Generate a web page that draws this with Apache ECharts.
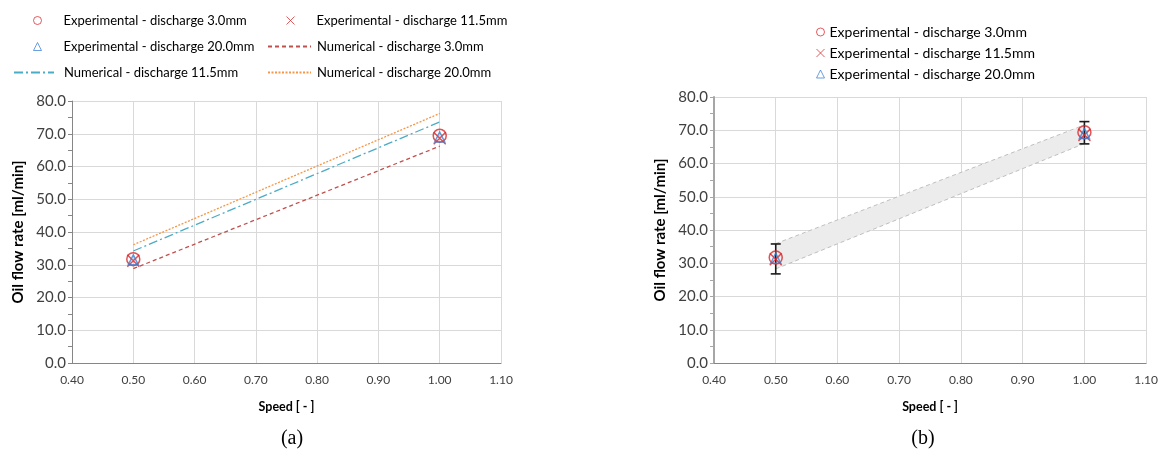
<!DOCTYPE html>
<html lang="en">
<head>
    <meta charset="utf-8"/>
    <title>Oil flow rate vs speed</title>
    <script src="https://cdn.jsdelivr.net/npm/echarts@6.0.0/dist/echarts.min.js"></script>
    <style>
        html, body { margin: 0; padding: 0; background: #fff; }
        #main { width: 1161px; height: 453px; }
    </style>
</head>
<body>
<div id="main"></div>
<script>
    // speeds measured / simulated
    var speeds = [0.5, 1.0];

    // experimental oil flow rate [ml/min]
    var exp30 = [31.7, 69.4];
    var exp115 = [31.2, 68.6];
    var exp200 = [31.5, 69.0];

    // numerical results [ml/min]
    var num30 = [28.8, 66.2];
    var num115 = [34.2, 73.6];
    var num200 = [36.1, 76.2];

    // (b) numerical band and experimental error bars
    var bandLower = [28.3, 66.0];
    var bandUpper = [35.9, 71.6];
    var errLow = [26.8, 65.9];
    var errHigh = [35.8, 72.6];

    var xTicks = ['0.40', '0.50', '0.60', '0.70', '0.80', '0.90', '1.00', '1.10'];
    var yTicks = ['0.0', '10.0', '20.0', '30.0', '40.0', '50.0', '60.0', '70.0', '80.0'];

    var names = {
        e30: 'Experimental - discharge 3.0mm',
        e115: 'Experimental - discharge 11.5mm',
        e200: 'Experimental - discharge 20.0mm',
        n30: 'Numerical - discharge 3.0mm',
        n115: 'Numerical - discharge 11.5mm',
        n200: 'Numerical - discharge 20.0mm'
    };

    var RED = '#d9262a';
    var BLUE = '#3a7fd5';
    var FONT = 'Lato';

    function pairs(ys) {
        return speeds.map(function (x, i) { return [x, ys[i]]; });
    }

    function xAxisFor(idx, lineColor) {
        return {
            gridIndex: idx,
            type: 'value',
            min: 0.4,
            max: 1.1,
            interval: 0.1,
            name: 'Speed [ - ]',
            nameLocation: 'middle',
            nameGap: 37,
            nameTextStyle: {fontFamily: FONT, fontSize: 12.5, fontWeight: 'bold', color: '#000'},
            axisLine: {onZero: false, lineStyle: {color: lineColor, width: 1}},
            axisTick: {show: false},
            axisLabel: {
                margin: 11, fontFamily: FONT, fontSize: 12, color: '#404040',
                formatter: function (v) { return xTicks[Math.round((v - 0.4) * 10)]; }
            },
            splitLine: {show: true, lineStyle: {color: '#d9d9d9'}}
        };
    }

    function yAxisFor(idx, lineColor, lineWidth) {
        return {
            gridIndex: idx,
            type: 'value',
            min: 0,
            max: 80,
            interval: 10,
            name: 'Oil flow rate [ml/min]',
            nameLocation: 'middle',
            nameGap: 46,
            nameTextStyle: {fontFamily: FONT, fontSize: 15, fontWeight: 'bold', color: '#000'},
            axisLine: {show: true, lineStyle: {color: lineColor, width: lineWidth}},
            axisTick: {show: true, length: 4, lineStyle: {color: lineColor}},
            minorTick: {show: true, splitNumber: 2, length: 4, lineStyle: {color: lineColor}},
            axisLabel: {
                margin: 6, fontFamily: FONT, fontSize: 15, color: '#404040',
                formatter: function (v) { return yTicks[Math.round(v / 10)]; }
            },
            splitLine: {show: true, lineStyle: {color: '#d9d9d9'}}
        };
    }

    function expSeries(idx) {
        return [
            {
                name: names.e30, type: 'scatter', xAxisIndex: idx, yAxisIndex: idx,
                symbol: 'circle', symbolSize: 13, z: 5,
                itemStyle: {color: 'rgba(0,0,0,0)', borderColor: RED, borderWidth: 1.5},
                data: pairs(exp30)
            },
            {
                name: names.e115, type: 'scatter', xAxisIndex: idx, yAxisIndex: idx,
                symbol: 'path://M0,0L10,10M10,0L0,10', symbolSize: 12, z: 5,
                itemStyle: {color: 'rgba(0,0,0,0)', borderColor: RED, borderWidth: 1.5},
                data: pairs(exp115)
            },
            {
                name: names.e200, type: 'scatter', xAxisIndex: idx, yAxisIndex: idx,
                symbol: 'triangle', symbolSize: 10, z: 6,
                itemStyle: {color: 'rgba(0,0,0,0)', borderColor: BLUE, borderWidth: 1.5},
                data: pairs(exp200)
            }
        ];
    }

    function numSeries(name, ys, color, dash) {
        return {
            name: name, type: 'line', xAxisIndex: 0, yAxisIndex: 0,
            symbol: 'none', z: 3,
            lineStyle: {color: color, width: 1.3, type: dash},
            itemStyle: {color: color},
            data: pairs(ys)
        };
    }

    var legendText = {fontFamily: FONT, fontSize: 13, color: '#000'};
    // one legend per entry so the 2-column layout of (a) can be placed exactly
    function oneLegend(name, left, top, w, pad, isLine) {
        var lg = {
            data: [name], left: left, top: top,
            itemWidth: w, itemHeight: 8,
            selectedMode: false,
            textStyle: Object.assign({padding: [0, 0, 0, pad]}, legendText)
        };
        if (isLine) {
            lg.itemStyle = {opacity: 0};
        } else {
            lg.itemStyle = {borderWidth: 1, opacity: 0.75};
        }
        return lg;
    }

    var chart = echarts.init(document.getElementById('main'));

    var series = []
        .concat(expSeries(0))
        .concat([
            numSeries(names.n30, num30, '#c0504d', [4, 3]),
            numSeries(names.n115, num115, '#4bacc6', [9, 3, 2, 3]),
            numSeries(names.n200, num200, '#f79646', [2, 1.5])
        ])
        .concat([
            {
                name: 'band', type: 'custom', xAxisIndex: 1, yAxisIndex: 1, z: 2,
                data: speeds.map(function (x, i) { return [x, bandLower[i], bandUpper[i]]; }),
                renderItem: function (params, api) {
                    var i = params.dataIndex;
                    if (i + 1 >= speeds.length) {
                        return null;
                    }
                    var lo0 = api.coord([speeds[i], bandLower[i]]);
                    var hi0 = api.coord([speeds[i], bandUpper[i]]);
                    var lo1 = api.coord([speeds[i + 1], bandLower[i + 1]]);
                    var hi1 = api.coord([speeds[i + 1], bandUpper[i + 1]]);
                    var edge = {stroke: '#bfbfbf', lineWidth: 1, lineDash: [4, 3], fill: null};
                    return {
                        type: 'group',
                        children: [
                            {type: 'polygon', shape: {points: [lo0, lo1, hi1, hi0]}, style: {fill: '#ececec'}},
                            {type: 'polyline', shape: {points: [lo0, lo1]}, style: edge},
                            {type: 'polyline', shape: {points: [hi0, hi1]}, style: edge}
                        ]
                    };
                }
            },
            {
                name: 'errorBars', type: 'custom', xAxisIndex: 1, yAxisIndex: 1, z: 4,
                data: speeds.map(function (x, i) { return [x, errLow[i], errHigh[i]]; }),
                renderItem: function (params, api) {
                    var lo = api.coord([api.value(0), api.value(1)]);
                    var hi = api.coord([api.value(0), api.value(2)]);
                    var half = 5;
                    var st = {stroke: '#1a1a1a', lineWidth: 1.6};
                    return {
                        type: 'group',
                        children: [
                            {type: 'line', shape: {x1: lo[0], y1: lo[1], x2: hi[0], y2: hi[1]}, style: st},
                            {type: 'line', shape: {x1: lo[0] - half, y1: lo[1], x2: lo[0] + half, y2: lo[1]}, style: st},
                            {type: 'line', shape: {x1: hi[0] - half, y1: hi[1], x2: hi[0] + half, y2: hi[1]}, style: st}
                        ]
                    };
                }
            }
        ])
        .concat(expSeries(1));

    var option = {
        animation: false,
        backgroundColor: '#fff',
        title: [
            {text: '(a)', left: 287, top: 424, textAlign: 'center',
                textStyle: {fontFamily: 'Liberation Serif', fontSize: 20, fontWeight: 'normal', color: '#000'}},
            {text: '(b)', left: 918, top: 424, textAlign: 'center',
                textStyle: {fontFamily: 'Liberation Serif', fontSize: 20, fontWeight: 'normal', color: '#000'}}
        ],
        legend: [
            oneLegend(names.e30, 28, 9, 8, 17, false),
            oneLegend(names.e115, 281, 9, 8, 17, false),
            oneLegend(names.e200, 28, 35, 8, 17, false),
            oneLegend(names.n30, 262, 35, 43, 1, true),
            oneLegend(names.n115, 8, 61, 40, 5, true),
            oneLegend(names.n200, 262, 61, 43, 1, true),
            {
                data: [names.e30, names.e115, names.e200],
                orient: 'vertical', left: 811, top: 20,
                itemWidth: 8, itemHeight: 8, itemGap: 7,
                selectedMode: false,
                itemStyle: {borderWidth: 1, opacity: 0.75},
                textStyle: {fontFamily: FONT, fontSize: 14, color: '#000'}
            }
        ],
        grid: [
            {left: 72, top: 101, width: 429, height: 262},
            {left: 714, top: 97, width: 433, height: 266}
        ],
        xAxis: [xAxisFor(0, '#868686'), xAxisFor(1, '#868686')],
        yAxis: [yAxisFor(0, '#868686', 1), yAxisFor(1, '#a6a6a6', 2)],
        series: series
    };

    chart.setOption(option);
</script>
</body>
</html>
